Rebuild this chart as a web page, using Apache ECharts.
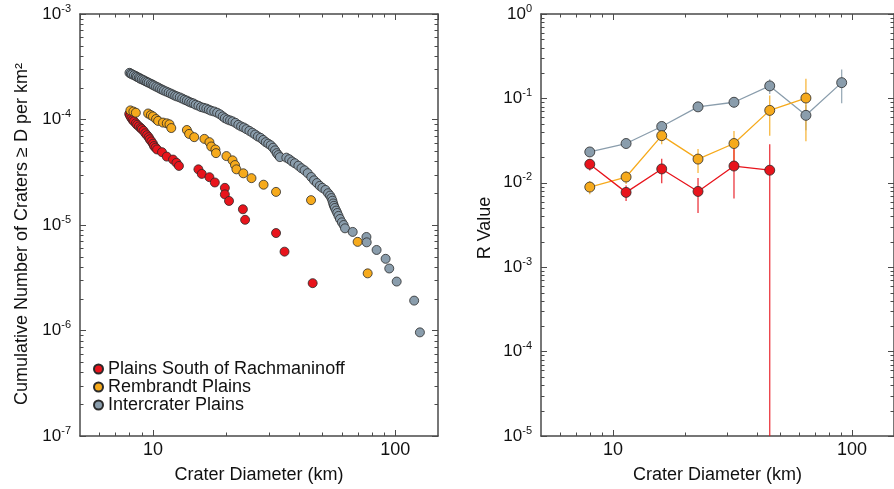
<!DOCTYPE html>
<html><head><meta charset="utf-8">
<script src="https://cdn.jsdelivr.net/npm/echarts@6/dist/echarts.min.js"></script>
<style>html,body{margin:0;padding:0;background:#fff}#c{width:894px;height:489px}</style>
</head><body><div id="c"></div>
<script>
// ---------- names & colours ----------
const seriesNames = ['Plains South of Rachmaninoff', 'Rembrandt Plains', 'Intercrater Plains'];
const colors = ['#e8141c', '#f6aa1c', '#8a9dac'];

// ---------- left panel: cumulative crater densities ----------
const redD = [7.98, 8.05, 8.15, 8.25, 8.35, 8.5, 8.6, 8.75, 8.9, 9.0, 9.15, 9.3, 9.45, 9.6, 9.7, 9.85, 10.0, 10.1, 10.25, 10.4,
  10.9, 11.4, 12.1, 12.5, 12.8, 15.4, 15.9, 17.1, 18.0, 19.8, 19.8, 20.6, 23.5, 24.0, 32.2, 34.9, 45.6];
const redN = [1.13e-4, 1.08e-4, 1.03e-4, 9.9e-5, 9.6e-5, 9.2e-5, 8.9e-5, 8.6e-5, 8.3e-5, 8.1e-5, 7.8e-5, 7.4e-5, 7.1e-5, 6.8e-5, 6.5e-5, 6.2e-5, 5.9e-5, 5.6e-5, 5.4e-5, 5.2e-5,
  4.9e-5, 4.45e-5, 4.17e-5, 3.89e-5, 3.63e-5, 3.37e-5, 3.05e-5, 2.84e-5, 2.53e-5, 2.25e-5, 1.95e-5, 1.69e-5, 1.41e-5, 1.12e-5, 8.39e-6, 5.59e-6, 2.81e-6];

const orangeD = [8.07, 8.3, 8.5, 9.55, 9.8, 10.0, 10.3, 10.5, 11.0, 11.4, 11.7, 11.9, 13.8, 14.1, 14.8, 16.3, 17.1, 17.4, 18.1, 18.2,
  20.1, 21.3, 21.8, 22.1, 23.6, 25.5, 28.6, 32.2, 44.9, 69.9, 76.9];
const orangeN = [1.22e-4, 1.19e-4, 1.16e-4, 1.14e-4, 1.1e-4, 1.07e-4, 1.01e-4, 9.7e-5, 9.35e-5, 9.2e-5, 9.0e-5, 8.3e-5, 7.95e-5, 7.3e-5, 6.8e-5, 6.55e-5, 6.1e-5, 5.55e-5, 5.2e-5, 4.8e-5,
  4.5e-5, 4.1e-5, 3.7e-5, 3.37e-5, 3.09e-5, 2.78e-5, 2.41e-5, 2.06e-5, 1.72e-5, 6.92e-6, 3.48e-6];

const blueD = [8.0, 8.1, 8.2, 8.35, 8.5, 8.6, 8.75, 8.85, 9.0, 9.15, 9.3, 9.45, 9.6, 9.8, 9.95, 10.1, 10.3, 10.5, 10.7, 10.9,
  11.1, 11.35, 11.6, 11.85, 12.1, 12.35, 12.6, 12.9, 13.2, 13.5, 13.8, 14.1, 14.4, 14.7, 15.0, 15.4, 15.8, 16.2, 16.6, 17.0,
  17.4, 17.9, 18.4, 18.9, 19.4, 19.8, 20.3, 20.8, 21.3, 21.9, 22.5, 23.1, 23.7, 24.3, 25.0, 25.7, 26.4, 27.1, 27.8, 28.5,
  29.2, 29.9, 30.6, 31.3, 31.9, 32.4, 32.9, 33.4, 35.5, 36.5, 37.5, 38.5, 39.8, 41.0, 42.2, 43.5, 45.0, 46.2, 47.5, 48.8,
  50.0, 51.5, 52.8, 53.8, 54.5, 55.0, 55.4, 55.8, 56.3, 57.0, 57.6, 58.3, 59.1, 60.2, 61.2, 62.0, 66.7, 76.0, 76.2, 83.7,
  91.2, 94.4, 101.3, 119.6, 126.3];
const blueN = [2.77e-4, 2.72e-4, 2.68e-4, 2.63e-4, 2.58e-4, 2.53e-4, 2.49e-4, 2.44e-4, 2.40e-4, 2.36e-4, 2.31e-4, 2.27e-4, 2.23e-4, 2.18e-4, 2.14e-4, 2.10e-4, 2.05e-4, 2.01e-4, 1.96e-4, 1.92e-4,
  1.88e-4, 1.84e-4, 1.80e-4, 1.76e-4, 1.72e-4, 1.68e-4, 1.65e-4, 1.62e-4, 1.58e-4, 1.54e-4, 1.51e-4, 1.47e-4, 1.44e-4, 1.42e-4, 1.38e-4, 1.35e-4, 1.31e-4, 1.29e-4, 1.27e-4, 1.24e-4,
  1.21e-4, 1.19e-4, 1.16e-4, 1.12e-4, 1.07e-4, 1.03e-4, 1.00e-4, 9.8e-5, 9.6e-5, 9.3e-5, 8.9e-5, 8.6e-5, 8.4e-5, 8.1e-5, 7.8e-5, 7.5e-5, 7.2e-5, 6.9e-5, 6.7e-5, 6.4e-5,
  6.1e-5, 5.9e-5, 5.7e-5, 5.4e-5, 5.1e-5, 4.8e-5, 4.6e-5, 4.4e-5, 4.35e-5, 4.2e-5, 4.0e-5, 3.85e-5, 3.65e-5, 3.45e-5, 3.3e-5, 3.1e-5, 2.85e-5, 2.65e-5, 2.5e-5, 2.35e-5,
  2.25e-5, 2.15e-5, 2.0e-5, 1.9e-5, 1.8e-5, 1.7e-5, 1.6e-5, 1.52e-5, 1.45e-5, 1.37e-5, 1.3e-5, 1.22e-5, 1.14e-5, 1.06e-5, 1.0e-5, 9.3e-6, 8.6e-6, 7.7e-6, 6.85e-6, 5.8e-6,
  4.78e-6, 3.87e-6, 2.91e-6, 1.92e-6, 9.6e-7];

// ---------- right panel: R values ----------
const rBins = [8.0, 11.35, 16.0, 22.7, 32.1, 45.3, 64.2, 90.6];
const rRed = [0.0166, 0.0077, 0.0146, 0.0079, 0.0158, 0.0141];
const rRedErr = [0.0026, 0.0016, 0.0047, 0.0035, 0.0093, 0.0146];
const rOrange = [0.0089, 0.0117, 0.0362, 0.0191, 0.0292, 0.0721, 0.101];
const rOrangeErr = [0.0016, 0.002, 0.0075, 0.006, 0.012, 0.036, 0.07];
const rBlue = [0.0232, 0.0292, 0.0465, 0.0794, 0.090, 0.1406, 0.063, 0.1537];
const rBlueErr = [0.002, 0.003, 0.005, 0.008, 0.012, 0.028, 0.021, 0.066];

// ---------- axes ----------
const xMin = 5, xMax = 150;
const xTickLabels = [10, 100];
const xMinorTicks = [6, 7, 8, 9, 20, 30, 40, 50, 60, 70, 80, 90];
const yLeftMin = 1e-7, yLeftMax = 1e-3;
const yRightMin = 1e-5, yRightMax = 1;
const xName = 'Crater Diameter (km)';
const yLeftName = 'Cumulative Number of Craters \u2265 D per km\u00B2';
const yRightName = 'R Value';

function minorDecadeTicks(lo, hi) {
  const out = [];
  for (let e = Math.round(Math.log10(lo)); e < Math.round(Math.log10(hi)); e++) {
    for (let m = 2; m <= 9; m++) out.push(m * Math.pow(10, e));
  }
  return out;
}

const FONT = '"Liberation Sans", Arial, Helvetica, sans-serif';
const FS = 18;
const AXC = '#4a4a4a';
const axisLine = { show: true, lineStyle: { color: AXC, width: 1.5 } };
const axisTick = { show: true, inside: true, length: 6, lineStyle: { color: AXC, width: 1 } };

function xAxisDef(grid, pos, labels) {
  return {
    type: 'log', logBase: 10, gridIndex: grid, position: pos, min: xMin, max: xMax,
    axisLine, axisTick, splitLine: { show: false }, minorTick: { show: false },
    axisLabel: {
      show: labels, margin: 5, color: '#111', fontFamily: FONT, fontSize: FS,
      showMinLabel: false, showMaxLabel: false,
      formatter: v => xTickLabels.some(t => Math.abs(t - v) < 1e-6) ? String(Math.round(v)) : ''
    },
    name: labels ? xName : '', nameLocation: 'middle', nameGap: 30,
    nameTextStyle: { color: '#111', fontFamily: FONT, fontSize: FS }
  };
}
function yAxisDef(grid, pos, labels, min, max, name, gap, namePad) {
  return {
    type: 'log', logBase: 10, gridIndex: grid, position: pos, min, max,
    axisLine, axisTick, splitLine: { show: false }, minorTick: { show: false },
    axisLabel: {
      show: labels, margin: 9, color: '#111', fontFamily: FONT,
      formatter: v => '{b|10}{s|' + Math.round(Math.log10(v)) + '}',
      rich: {
        b: { fontSize: 17, fontFamily: FONT, color: '#111' },
        s: { fontSize: 11, fontFamily: FONT, color: '#111', verticalAlign: 'top', padding: [0, 0, 11, 0] }
      }
    },
    name: labels ? name : '', nameLocation: 'middle', nameGap: gap, nameRotate: 90,
    nameTextStyle: { color: '#111', fontFamily: FONT, fontSize: FS, padding: namePad || 0 }
  };
}

function minorTickSeries(xi, yi, xVals, yVals, yAny, xAny) {
  return {
    type: 'custom', xAxisIndex: xi, yAxisIndex: yi, silent: true, z: 1, clip: false,
    data: [[xAny, yAny]],
    renderItem(params, api) {
      const cs = params.coordSys;
      const ch = [];
      const st = { stroke: AXC, lineWidth: 1 };
      const L = 3.5;
      xVals.forEach(v => {
        const px = Math.round(api.coord([v, yAny])[0]) + 0.5;
        ch.push({ type: 'line', shape: { x1: px, y1: cs.y + cs.height, x2: px, y2: cs.y + cs.height - L }, style: st });
        ch.push({ type: 'line', shape: { x1: px, y1: cs.y, x2: px, y2: cs.y + L }, style: st });
      });
      yVals.forEach(v => {
        const py = Math.round(api.coord([xAny, v])[1]) + 0.5;
        ch.push({ type: 'line', shape: { x1: cs.x, y1: py, x2: cs.x + L, y2: py }, style: st });
        ch.push({ type: 'line', shape: { x1: cs.x + cs.width, y1: py, x2: cs.x + cs.width - L, y2: py }, style: st });
      });
      return { type: 'group', children: ch };
    }
  };
}

function errSeries(name, vals, errs, color) {
  return {
    name, type: 'custom', xAxisIndex: 2, yAxisIndex: 2, z: 2, clip: true,
    data: vals.map((v, i) => [rBins[i], v, v - errs[i], v + errs[i]]),
    renderItem(params, api) {
      const x = api.value(0);
      const lo = Math.max(api.value(2), yRightMin);
      const hi = api.value(3);
      const p1 = api.coord([x, lo]);
      const p2 = api.coord([x, hi]);
      return { type: 'line', shape: { x1: p1[0], y1: p1[1], x2: p2[0], y2: p2[1] }, style: { stroke: color, lineWidth: 1.3, opacity: 0.85 } };
    }
  };
}

function scatterSeries(i, D, N) {
  return {
    name: seriesNames[i], type: 'scatter', xAxisIndex: 0, yAxisIndex: 0, z: 3 + i,
    symbol: 'circle', symbolSize: 9,
    itemStyle: { color: colors[i], borderColor: '#2a2a2a', borderWidth: 0.8, opacity: 1 },
    data: D.map((d, k) => [d, N[k]])
  };
}
function lineSeries(i, vals) {
  return {
    name: seriesNames[i], type: 'line', xAxisIndex: 2, yAxisIndex: 2, z: 6 - i,
    symbol: 'circle', symbolSize: 10,
    lineStyle: { color: colors[i], width: 1.3 },
    itemStyle: { color: colors[i], borderColor: '#2a2a2a', borderWidth: 0.8 },
    data: vals.map((v, k) => [rBins[k], v])
  };
}

const chart = echarts.init(document.getElementById('c'), null, { renderer: 'canvas' });
chart.setOption({
  animation: false,
  backgroundColor: '#fff',
  textStyle: { fontFamily: FONT },
  grid: [
    { left: 80, top: 14, width: 358, height: 431 },
    { left: 541, top: 14, width: 358, height: 431 }
  ],
  xAxis: [xAxisDef(0, 'bottom', true), xAxisDef(0, 'top', false), xAxisDef(1, 'bottom', true), xAxisDef(1, 'top', false)],
  yAxis: [
    yAxisDef(0, 'left', true, yLeftMin, yLeftMax, yLeftName, 49, [0, 18, 0, 0]),
    yAxisDef(0, 'right', false, yLeftMin, yLeftMax, '', 0),
    yAxisDef(1, 'left', true, yRightMin, yRightMax, yRightName, 47, [0, 6, 0, 0]),
    yAxisDef(1, 'right', false, yRightMin, yRightMax, '', 0)
  ],
  legend: {
    data: seriesNames, orient: 'vertical', left: 88, top: 355,
    icon: 'circle', itemWidth: 9, itemHeight: 9, itemGap: 0,
    textStyle: { fontSize: FS, fontFamily: FONT, color: '#111', padding: [0, 0, 0, 0], lineHeight: 17 },
    selectedMode: false
  },
  series: [
    minorTickSeries(0, 0, xMinorTicks, minorDecadeTicks(yLeftMin, yLeftMax), yLeftMin, xMin),
    minorTickSeries(2, 2, xMinorTicks, minorDecadeTicks(yRightMin, yRightMax), yRightMin, xMin),
    scatterSeries(2, blueD, blueN),
    scatterSeries(1, orangeD, orangeN),
    scatterSeries(0, redD, redN),
    errSeries(seriesNames[2], rBlue, rBlueErr, colors[2]),
    errSeries(seriesNames[1], rOrange, rOrangeErr, colors[1]),
    errSeries(seriesNames[0], rRed, rRedErr, colors[0]),
    lineSeries(2, rBlue),
    lineSeries(1, rOrange),
    lineSeries(0, rRed)
  ]
});
</script>
</body></html>
